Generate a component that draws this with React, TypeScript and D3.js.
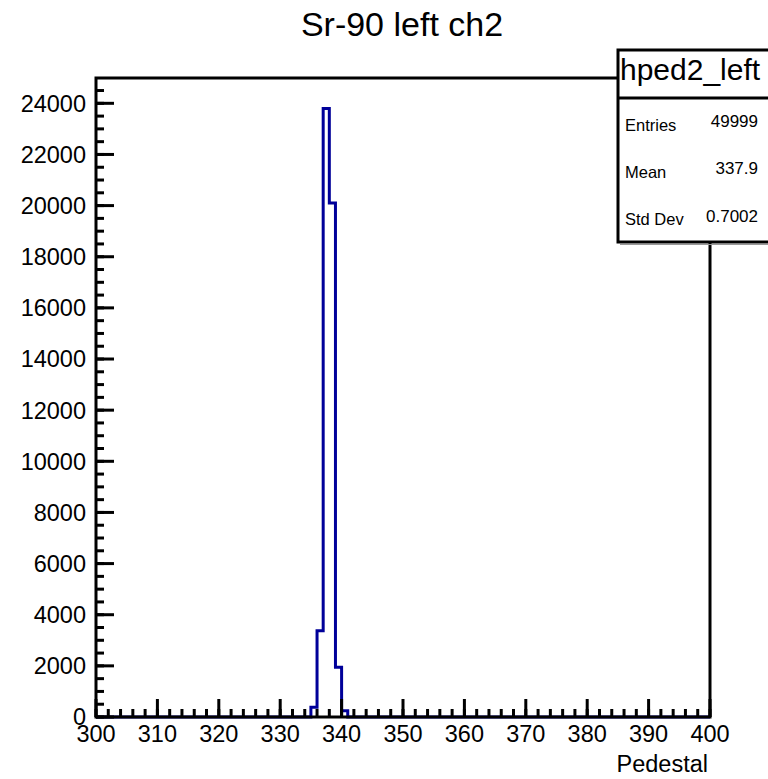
import React from "react";
import * as d3 from "d3";

const title = "Sr-90 left ch2";
const xLabel = "Pedestal";
const statsName = "hped2_left";
const statsLabels = ["Entries", "Mean", "Std Dev"];
const statsValues = ["49999", "337.9", "0.7002"];

const binLow = 300;
const binHigh = 400;
const binWidth = 1;
const filledBinStarts = [335, 336, 337, 338, 339, 340];
const filledBinCounts = [380, 3370, 23800, 20100, 1950, 240];

const xTicks = [300, 310, 320, 330, 340, 350, 360, 370, 380, 390, 400];
const yTicks = [0, 2000, 4000, 6000, 8000, 10000, 12000, 14000, 16000, 18000, 20000, 22000, 24000];
const yMax = 24990;

const W = 768;
const H = 779;
const L = 96, R = 710, T = 78, B = 717;
const FONT = "'Liberation Sans', Arial, Helvetica, sans-serif";

export default function App() {
  const x = d3.scaleLinear().domain([binLow, binHigh]).range([L, R]);
  const y = d3.scaleLinear().domain([0, yMax]).range([B, T]);

  const nBins = Math.round((binHigh - binLow) / binWidth);
  const counts: number[] = d3.range(nBins).map((i) => {
    const s = binLow + i * binWidth;
    const k = filledBinStarts.indexOf(s);
    return k >= 0 ? filledBinCounts[k] : 0;
  });

  const pts: [number, number][] = [[binLow, 0]];
  counts.forEach((c, i) => {
    const s = binLow + i * binWidth;
    pts.push([s, c]);
    pts.push([s + binWidth, c]);
  });
  pts.push([binHigh, 0]);
  const line = d3.line<[number, number]>().x((d) => x(d[0])).y((d) => y(d[1]));

  const xMinor = d3.range(binLow, binHigh + 0.001, 2);
  const yMinor = d3.range(0, yMax, 500);

  const boxL = 618, boxT = 50, boxHead = 98, boxB = 242;

  return (
    <svg width={W} height={H} style={{ position: "absolute", left: 0, top: 0, background: "#fff" }}>
      <rect x={0} y={0} width={W} height={H} fill="#fff" />
      <text x={402} y={36} textAnchor="middle" fontFamily={FONT} fontSize={34} fill="#000">{title}</text>

      <path d={line(pts) || ""} fill="none" stroke="#000099" strokeWidth={3} strokeLinejoin="miter" />

      {/* minor ticks */}
      {xMinor.map((v) => (
        <line key={"xm" + v} x1={x(v)} x2={x(v)} y1={B} y2={B - 8} stroke="#000" strokeWidth={3} />
      ))}
      {xTicks.map((v) => (
        <line key={"xM" + v} x1={x(v)} x2={x(v)} y1={B} y2={B - 18} stroke="#000" strokeWidth={3} />
      ))}
      {yMinor.map((v) => (
        <line key={"ym" + v} x1={L} x2={L + 8} y1={y(v)} y2={y(v)} stroke="#000" strokeWidth={3} />
      ))}
      {yTicks.map((v) => (
        <line key={"yM" + v} x1={L} x2={L + 18} y1={y(v)} y2={y(v)} stroke="#000" strokeWidth={3} />
      ))}

      <rect x={L} y={T} width={R - L} height={B - T} fill="none" stroke="#000" strokeWidth={3} />

      {xTicks.map((v) => (
        <text key={"xl" + v} x={x(v)} y={742} textAnchor="middle" fontFamily={FONT} fontSize={23.5} fill="#000">{v}</text>
      ))}
      {yTicks.map((v) => (
        <text key={"yl" + v} x={86} y={y(v)} dy="0.36em" textAnchor="end" fontFamily={FONT} fontSize={23.5} fill="#000">{v}</text>
      ))}
      <text x={708} y={772} textAnchor="end" fontFamily={FONT} fontSize={23.5} fill="#000">{xLabel}</text>

      {/* stats box */}
      <line x1={boxL + 2} x2={W} y1={boxB + 2.5} y2={boxB + 2.5} stroke="#999" strokeWidth={1} />
      <rect x={boxL} y={boxT} width={W - boxL + 20} height={boxB - boxT} fill="#fff" stroke="#000" strokeWidth={3} />
      <line x1={boxL} x2={W} y1={boxHead} y2={boxHead} stroke="#000" strokeWidth={3} />
      <text x={620} y={80} fontFamily={FONT} fontSize={30} fill="#000">{statsName}</text>
      {statsLabels.map((s, i) => (
        <text key={s} x={625} y={131 + i * 47} fontFamily={FONT} fontSize={16.5} fill="#000">{s}</text>
      ))}
      {statsValues.map((s, i) => (
        <text key={s} x={758} y={127 + i * 47.3} textAnchor="end" fontFamily={FONT} fontSize={17} fill="#000">{s}</text>
      ))}
    </svg>
  );
}
